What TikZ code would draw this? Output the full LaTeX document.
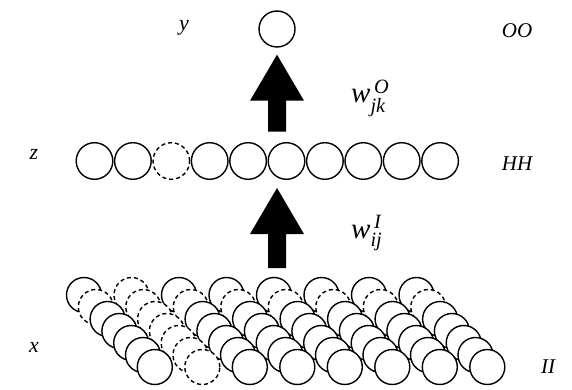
\documentclass[tikz,border=0pt]{standalone}
\usepackage{amsmath}
\usepackage{fontspec}
\setmainfont{Liberation Serif}
\usetikzlibrary{calc}
\begin{document}
\begin{tikzpicture}[x=1pt,y=-1pt,
  neuron/.style={circle,draw=black,fill=white,line width=1.4pt,minimum size=35pt,inner sep=0pt},
  ghost/.style={neuron,dash pattern=on 4pt off 3pt},
  lab/.style={font=\fontsize{22}{22}\selectfont\itshape,inner sep=0pt},
  biglab/.style={font=\fontsize{21}{21}\selectfont\itshape,inner sep=0pt},
  wlab/.style={font=\fontsize{29}{29}\selectfont\itshape,inner sep=0pt,anchor=base west},
  fatarrow/.style={fill=black,draw=none}]
\useasboundingbox (0,0) rectangle (572,390);

% input layer (back to front)
\foreach \d in {0,...,6}{
  \foreach \c in {0,...,7}{
    \pgfmathsetmacro\px{84+47.5*\c+11.8*\d}
    \pgfmathsetmacro\py{295+12*\d}
    \pgfmathtruncatemacro\isghost{((\c==1)||(\d==1))?1:0}
    \ifnum\isghost=1
      \node[ghost] (in-\c-\d) at (\px,\py) {};
    \else
      \node[neuron] (in-\c-\d) at (\px,\py) {};
    \fi
  }
}

% hidden layer
\foreach \i in {0,...,9}{
  \pgfmathsetmacro\px{94.5+38.4*\i}
  \ifnum\i=2
    \node[ghost,minimum size=36.6pt] (hid-\i) at (\px,161) {};
  \else
    \node[neuron,minimum size=36.6pt] (hid-\i) at (\px,161) {};
  \fi
}

% output layer
\node[neuron,minimum size=36pt] (out) at (277,29) {};

% fat arrows
\coordinate (tipO) at ($(out.south)+(0,7)$);
\coordinate (tipI) at (tipO |- 188,188);
\fill[fatarrow,shift={(tipO)}] (0,0) -- (27,46) -- (9,46) -- (9,77) -- (-9,77) -- (-9,46) -- (-27,46) -- cycle;
\fill[fatarrow,shift={(tipI)}] (0,0) -- (27,46) -- (9,46) -- (9,80) -- (-9,80) -- (-9,46) -- (-27,46) -- cycle;

% labels
\node[lab] (ly) at (184,28) {y};
\node[lab] (lz) at (34,154) {z};
\node[lab] (lx) at (34,347) {x};
\node[biglab] (lO) at (517,31) {OO};
\node[biglab] (lH) at (517,164) {HH};
\node[biglab] (lI) at (548,367) {II};
\node[wlab] (wO) at (351,103) {w$^{\,\textit{O}}_{\textit{jk}}$};
\node[wlab] (wI) at (351,238) {w$^{\,\textit{I}}_{\textit{ij}}$};
\end{tikzpicture}
\end{document}
